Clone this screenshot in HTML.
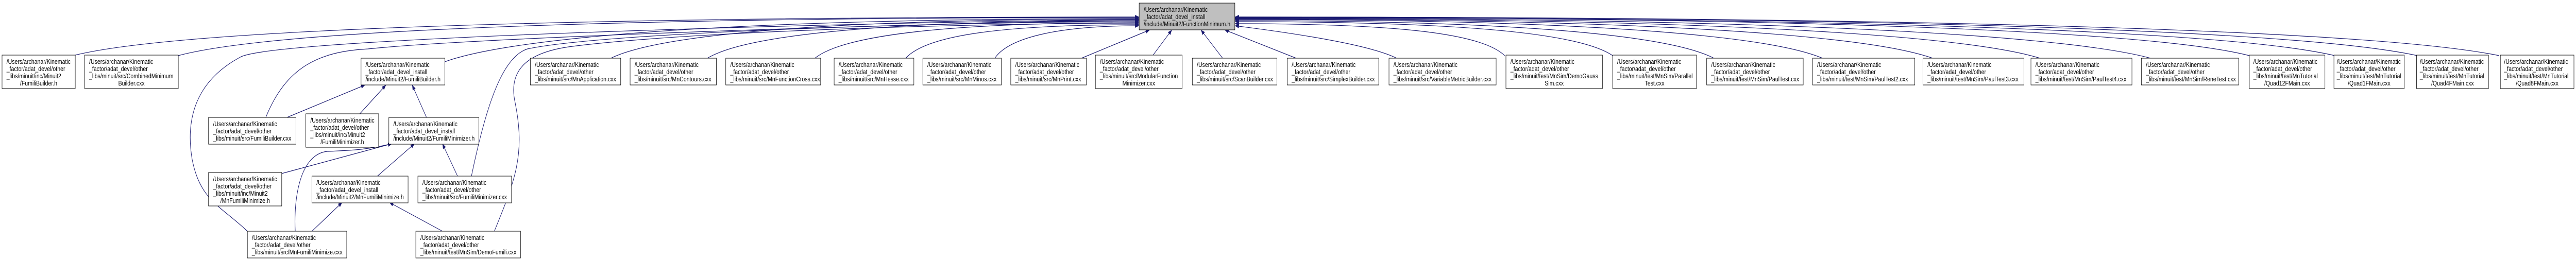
<!DOCTYPE html>
<html><head><meta charset="utf-8"><style>
html,body{margin:0;padding:0;background:#fff;overflow:hidden;width:100%;height:100%;}
svg{display:block;width:100vw;height:100vh;}
text{font-family:"Liberation Sans",Arial,sans-serif;font-size:13.3px;fill:#000;}
.e{fill:none;stroke:#191970;stroke-width:1.2;marker-end:url(#a);}
.b{fill:#fff;stroke:#000;stroke-width:1;}
</style></head><body>
<svg viewBox="0 0 6300 503" preserveAspectRatio="none" xmlns="http://www.w3.org/2000/svg">
<defs><marker id="a" markerUnits="userSpaceOnUse" markerWidth="11" markerHeight="8" refX="10" refY="4" orient="auto"><path d="M0,0 L10,4 L0,8 z" fill="#191970"/></marker></defs>
<g>
<path class="e" d="M184,107 C392,67 1095,33 2786,33"/>
<path class="e" d="M436,108 C624,68 1259,34 2786,34"/>
<path class="e" d="M1088,120 C1224,80 1682,36 2786,36"/>
<path class="e" d="M1494,113 C1597,73 1946,37 2786,37"/>
<path class="e" d="M1730,113 C1814,73 2100,40 2786,40"/>
<path class="e" d="M1993,113 C2056,73 2271,44 2786,44"/>
<path class="e" d="M2215,113 C2261,73 2415,48 2786,48"/>
<path class="e" d="M2433,113 C2461,80 2557,50 2786,50"/>
<path class="e" d="M2645,113 L2812,58"/>
<path class="e" d="M2820,107 L2866,58"/>
<path class="e" d="M2991,114 L2937,58"/>
<path class="e" d="M3173,114 L2995,58"/>
<path class="e" d="M3418,114 C3360,90 3200,68 3020,50"/>
<path class="e" d="M3680,108 C3627,68 3449,46 3020,46"/>
<path class="e" d="M3944,108 C3870,68 3621,42 3020,42"/>
<path class="e" d="M4194,114 C4100,74 3783,40 3020,40"/>
<path class="e" d="M4460,114 C4345,74 3956,38 3020,38"/>
<path class="e" d="M4730,114 C4593,74 4132,37 3020,37"/>
<path class="e" d="M4993,114 C4835,74 4302,36 3020,36"/>
<path class="e" d="M5264,114 C5084,74 4479,35 3020,35"/>
<path class="e" d="M5501,108 C5303,68 4633,34 3020,34"/>
<path class="e" d="M5710,108 C5495,68 4769,34 3020,34"/>
<path class="e" d="M5912,108 C5681,68 4900,33 3020,33"/>
<path class="e" d="M6112,108 C5865,68 5030,33 3020,33"/>
<path class="e" d="M605,449 C540,400 490,390 470,310 C455,240 470,160 590,110 C700,70 2300,40 2786,38"/>
<path class="e" d="M650,228 C700,130 780,100 900,95 C1200,70 2400,42 2786,40"/>
<path class="e" d="M1153,342 C1190,200 1230,110 1290,95 C1500,60 2400,42 2786,42"/>
<path class="e" d="M1209,449 C1260,350 1285,300 1260,200 C1240,130 1300,100 1400,90 C1700,60 2400,45 2786,45"/>
<path class="e" d="M702,228 L893,165"/>
<path class="e" d="M880,221 L944,165"/>
<path class="e" d="M1043,228 L1008,165"/>
<path class="e" d="M689,337 L959,279"/>
<path class="e" d="M722,449 C718,380 735,300 800,294 C870,292 900,290 959,279"/>
<path class="e" d="M923,342 L1014,279"/>
<path class="e" d="M1119,342 L1082,279"/>
<path class="e" d="M763,449 L837,393"/>
<path class="e" d="M1082,449 L952,393"/>
</g>

<rect x="2786" y="6" width="234" height="52" fill="#bfbfbf" stroke="#000"/>
<text x="2797" y="23">/Users/archanar/Kinematic</text><text x="2797" y="37">_factor/adat_devel_install</text><text x="2797" y="51">/include/Minuit2/FunctionMinimum.h</text>

<rect class="b" x="5" y="107" width="179" height="65"/>
<text x="16" y="124">/Users/archanar/Kinematic</text><text x="16" y="138">_factor/adat_devel/other</text><text x="16" y="152">_libs/minuit/inc/Minuit2</text><text x="94.5" y="166" text-anchor="middle">/FumiliBuilder.h</text>

<rect class="b" x="207" y="107" width="229" height="65"/>
<text x="218" y="124">/Users/archanar/Kinematic</text><text x="218" y="138">_factor/adat_devel/other</text><text x="218" y="152">_libs/minuit/src/CombinedMinimum</text><text x="321.5" y="166" text-anchor="middle">Builder.cxx</text>

<rect class="b" x="883" y="113" width="205" height="52"/>
<text x="894" y="130">/Users/archanar/Kinematic</text><text x="894" y="144">_factor/adat_devel_install</text><text x="894" y="158">/include/Minuit2/FumiliBuilder.h</text>

<rect class="b" x="1297" y="113" width="221" height="52"/>
<text x="1308" y="130">/Users/archanar/Kinematic</text><text x="1308" y="144">_factor/adat_devel/other</text><text x="1308" y="158">_libs/minuit/src/MnApplication.cxx</text>

<rect class="b" x="1541" y="113" width="211" height="52"/>
<text x="1552" y="130">/Users/archanar/Kinematic</text><text x="1552" y="144">_factor/adat_devel/other</text><text x="1552" y="158">_libs/minuit/src/MnContours.cxx</text>

<rect class="b" x="1775" y="113" width="232" height="52"/>
<text x="1786" y="130">/Users/archanar/Kinematic</text><text x="1786" y="144">_factor/adat_devel/other</text><text x="1786" y="158">_libs/minuit/src/MnFunctionCross.cxx</text>

<rect class="b" x="2040" y="113" width="195" height="52"/>
<text x="2051" y="130">/Users/archanar/Kinematic</text><text x="2051" y="144">_factor/adat_devel/other</text><text x="2051" y="158">_libs/minuit/src/MnHesse.cxx</text>

<rect class="b" x="2257" y="113" width="192" height="52"/>
<text x="2268" y="130">/Users/archanar/Kinematic</text><text x="2268" y="144">_factor/adat_devel/other</text><text x="2268" y="158">_libs/minuit/src/MnMinos.cxx</text>

<rect class="b" x="2472" y="113" width="185" height="52"/>
<text x="2483" y="130">/Users/archanar/Kinematic</text><text x="2483" y="144">_factor/adat_devel/other</text><text x="2483" y="158">_libs/minuit/src/MnPrint.cxx</text>

<rect class="b" x="2679" y="107" width="212" height="65"/>
<text x="2690" y="124">/Users/archanar/Kinematic</text><text x="2690" y="138">_factor/adat_devel/other</text><text x="2690" y="152">_libs/minuit/src/ModularFunction</text><text x="2785" y="166" text-anchor="middle">Minimizer.cxx</text>

<rect class="b" x="2916" y="113" width="207" height="52"/>
<text x="2927" y="130">/Users/archanar/Kinematic</text><text x="2927" y="144">_factor/adat_devel/other</text><text x="2927" y="158">_libs/minuit/src/ScanBuilder.cxx</text>

<rect class="b" x="3148" y="113" width="224" height="52"/>
<text x="3159" y="130">/Users/archanar/Kinematic</text><text x="3159" y="144">_factor/adat_devel/other</text><text x="3159" y="158">_libs/minuit/src/SimplexBuilder.cxx</text>

<rect class="b" x="3397" y="113" width="262" height="52"/>
<text x="3408" y="130">/Users/archanar/Kinematic</text><text x="3408" y="144">_factor/adat_devel/other</text><text x="3408" y="158">_libs/minuit/src/VariableMetricBuilder.cxx</text>

<rect class="b" x="3683" y="107" width="236" height="65"/>
<text x="3694" y="124">/Users/archanar/Kinematic</text><text x="3694" y="138">_factor/adat_devel/other</text><text x="3694" y="152">_libs/minuit/test/MnSim/DemoGauss</text><text x="3801" y="166" text-anchor="middle">Sim.cxx</text>

<rect class="b" x="3944" y="107" width="205" height="65"/>
<text x="3955" y="124">/Users/archanar/Kinematic</text><text x="3955" y="138">_factor/adat_devel/other</text><text x="3955" y="152">_libs/minuit/test/MnSim/Parallel</text><text x="4046.5" y="166" text-anchor="middle">Test.cxx</text>

<rect class="b" x="4174" y="113" width="236" height="52"/>
<text x="4185" y="130">/Users/archanar/Kinematic</text><text x="4185" y="144">_factor/adat_devel/other</text><text x="4185" y="158">_libs/minuit/test/MnSim/PaulTest.cxx</text>

<rect class="b" x="4433" y="113" width="250" height="52"/>
<text x="4444" y="130">/Users/archanar/Kinematic</text><text x="4444" y="144">_factor/adat_devel/other</text><text x="4444" y="158">_libs/minuit/test/MnSim/PaulTest2.cxx</text>

<rect class="b" x="4703" y="113" width="247" height="52"/>
<text x="4714" y="130">/Users/archanar/Kinematic</text><text x="4714" y="144">_factor/adat_devel/other</text><text x="4714" y="158">_libs/minuit/test/MnSim/PaulTest3.cxx</text>

<rect class="b" x="4967" y="113" width="247" height="52"/>
<text x="4978" y="130">/Users/archanar/Kinematic</text><text x="4978" y="144">_factor/adat_devel/other</text><text x="4978" y="158">_libs/minuit/test/MnSim/PaulTest4.cxx</text>

<rect class="b" x="5237" y="113" width="238" height="52"/>
<text x="5248" y="130">/Users/archanar/Kinematic</text><text x="5248" y="144">_factor/adat_devel/other</text><text x="5248" y="158">_libs/minuit/test/MnSim/ReneTest.cxx</text>

<rect class="b" x="5501" y="107" width="185" height="65"/>
<text x="5511" y="124">/Users/archanar/Kinematic</text><text x="5511" y="138">_factor/adat_devel/other</text><text x="5511" y="152">_libs/minuit/test/MnTutorial</text><text x="5593.5" y="166" text-anchor="middle">/Quad12FMain.cxx</text>

<rect class="b" x="5708" y="107" width="172" height="65"/>
<text x="5715" y="124">/Users/archanar/Kinematic</text><text x="5715" y="138">_factor/adat_devel/other</text><text x="5715" y="152">_libs/minuit/test/MnTutorial</text><text x="5794" y="166" text-anchor="middle">/Quad1FMain.cxx</text>

<rect class="b" x="5910" y="107" width="176" height="65"/>
<text x="5918" y="124">/Users/archanar/Kinematic</text><text x="5918" y="138">_factor/adat_devel/other</text><text x="5918" y="152">_libs/minuit/test/MnTutorial</text><text x="5998" y="166" text-anchor="middle">/Quad4FMain.cxx</text>

<rect class="b" x="6115" y="107" width="180" height="65"/>
<text x="6124" y="124">/Users/archanar/Kinematic</text><text x="6124" y="138">_factor/adat_devel/other</text><text x="6124" y="152">_libs/minuit/test/MnTutorial</text><text x="6205" y="166" text-anchor="middle">/Quad8FMain.cxx</text>

<rect class="b" x="510" y="228" width="214" height="52"/>
<text x="521" y="245">/Users/archanar/Kinematic</text><text x="521" y="259">_factor/adat_devel/other</text><text x="521" y="273">_libs/minuit/src/FumiliBuilder.cxx</text>

<rect class="b" x="748" y="221" width="178" height="65"/>
<text x="759" y="238">/Users/archanar/Kinematic</text><text x="759" y="252">_factor/adat_devel/other</text><text x="759" y="266">_libs/minuit/inc/Minuit2</text><text x="837" y="280" text-anchor="middle">/FumiliMinimizer.h</text>

<rect class="b" x="951" y="228" width="220" height="52"/>
<text x="962" y="245">/Users/archanar/Kinematic</text><text x="962" y="259">_factor/adat_devel_install</text><text x="962" y="273">/include/Minuit2/FumiliMinimizer.h</text>

<rect class="b" x="510" y="335" width="179" height="65"/>
<text x="521" y="352">/Users/archanar/Kinematic</text><text x="521" y="366">_factor/adat_devel/other</text><text x="521" y="380">_libs/minuit/inc/Minuit2</text><text x="599.5" y="394" text-anchor="middle">/MnFumiliMinimize.h</text>

<rect class="b" x="763" y="342" width="235" height="52"/>
<text x="774" y="359">/Users/archanar/Kinematic</text><text x="774" y="373">_factor/adat_devel_install</text><text x="774" y="387">/include/Minuit2/MnFumiliMinimize.h</text>

<rect class="b" x="1022" y="342" width="229" height="52"/>
<text x="1033" y="359">/Users/archanar/Kinematic</text><text x="1033" y="373">_factor/adat_devel/other</text><text x="1033" y="387">_libs/minuit/src/FumiliMinimizer.cxx</text>

<rect class="b" x="605" y="449" width="243" height="52"/>
<text x="616" y="466">/Users/archanar/Kinematic</text><text x="616" y="480">_factor/adat_devel/other</text><text x="616" y="494">_libs/minuit/src/MnFumiliMinimize.cxx</text>

<rect class="b" x="1017" y="449" width="256" height="52"/>
<text x="1028" y="466">/Users/archanar/Kinematic</text><text x="1028" y="480">_factor/adat_devel/other</text><text x="1028" y="494">_libs/minuit/test/MnSim/DemoFumili.cxx</text>
</svg>
</body></html>
